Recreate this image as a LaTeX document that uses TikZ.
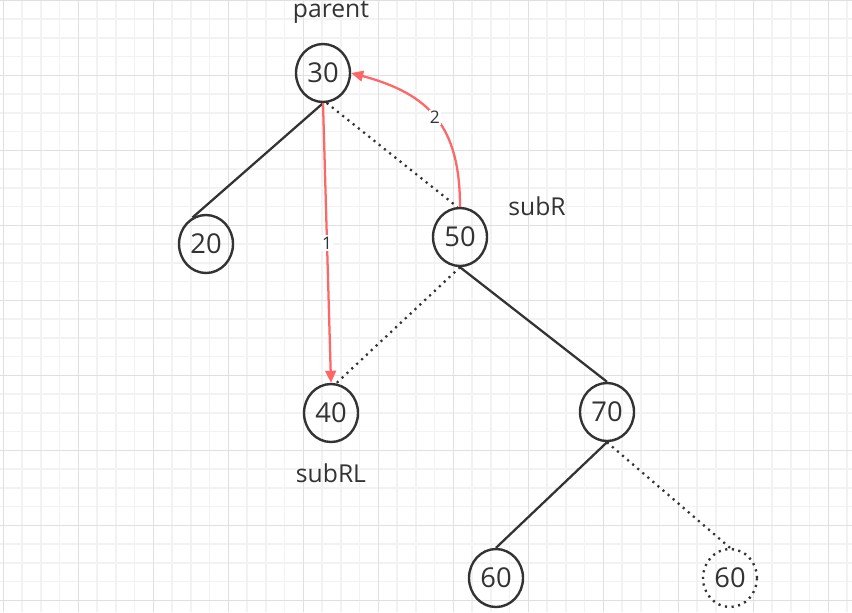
\documentclass[tikz,border=0pt]{standalone}
\usepackage{fontspec}
\setmainfont{Open Sans}
\usetikzlibrary{shapes.geometric,arrows.meta}
\definecolor{inkgray}{HTML}{333333}
\definecolor{linkred}{HTML}{FF6666}
\definecolor{minorline}{HTML}{F2F2F2}
\definecolor{majorline}{HTML}{E0E0E0}
\tikzset{
	treenode/.style={ellipse,draw=inkgray,line width=1.8pt,minimum width=40.5pt,minimum height=43.5pt,inner sep=0pt,text=inkgray,font=\fontsize{20.5}{20.5}\selectfont},
	ghostnode/.style={treenode,dash pattern=on 1.6pt off 3.4pt},
	edge/.style={draw=inkgray,line width=1.7pt},
	ghostedge/.style={edge,dash pattern=on 1.6pt off 3.4pt},
	redlink/.style={draw=linkred,line width=1.7pt,-{Triangle[length=9pt,width=8pt]}},
	tag/.style={inner sep=0pt,text=inkgray,font=\fontsize{18.5}{18.5}\selectfont},
	steplabel/.style={fill=white,inner sep=1pt,text=inkgray,font=\fontsize{13}{13}\selectfont}
}
\begin{document}
\begin{tikzpicture}[x=0.75pt,y=0.75pt]
	\useasboundingbox (0,0) rectangle (852,-612);
	\fill[white] (0,0) rectangle (852,-612);
	\begin{scope}[draw=minorline,line width=1.1pt]
		\foreach \i in {0,...,45}
			\draw ({3.3+\i*18.75},0) -- ++(0,-612);
		\foreach \j in {0,...,32}
			\draw (0,{-0.3-\j*18.75}) -- ++(852,0);
	\end{scope}
	\begin{scope}[draw=majorline,line width=0.8pt]
		\foreach \i in {0,...,11}
			\draw ({3.3+\i*75},0) -- ++(0,-612);
		\foreach \j in {0,...,8}
			\draw (0,{-0.3-\j*75}) -- ++(852,0);
	\end{scope}
	\node[treenode] (n30) at (323,-73) {30};
	\node[treenode] (n20) at (206,-244) {20};
	\node[treenode] (n50) at (460,-237) {50};
	\node[treenode] (n40) at (331,-413) {40};
	\node[treenode] (n70) at (607,-412) {70};
	\node[treenode] (n60) at (496,-578) {60};
	\node[ghostnode] (n60b) at (730,-578) {60};
	\node[tag,anchor=base] (parent) at (331,-17) {parent};
	\node[tag,anchor=base] (subR) at (537,-215) {subR};
	\node[tag,anchor=base] (subRL) at (331,-482) {subRL};
	\draw[edge] (n30.south) -- (n20.117);
	\draw[ghostedge] (n30.-83) -- (n50.95);
	\draw[ghostedge] (n50.south) -- (n40.80);
	\draw[edge] (n50.south) -- (n70.north);
	\draw[edge] (n70.south) -- (n60.north);
	\draw[ghostedge] (n70.south) -- (n60b.north);
	\draw[redlink] (n30.south) -- node[steplabel,pos=.5] {1} (n40.north);
	\draw[redlink] (n50.north) to[out=90,in=-15,looseness=1.2] node[steplabel,pos=.5] {2} (n30.east);
\end{tikzpicture}
\end{document}
